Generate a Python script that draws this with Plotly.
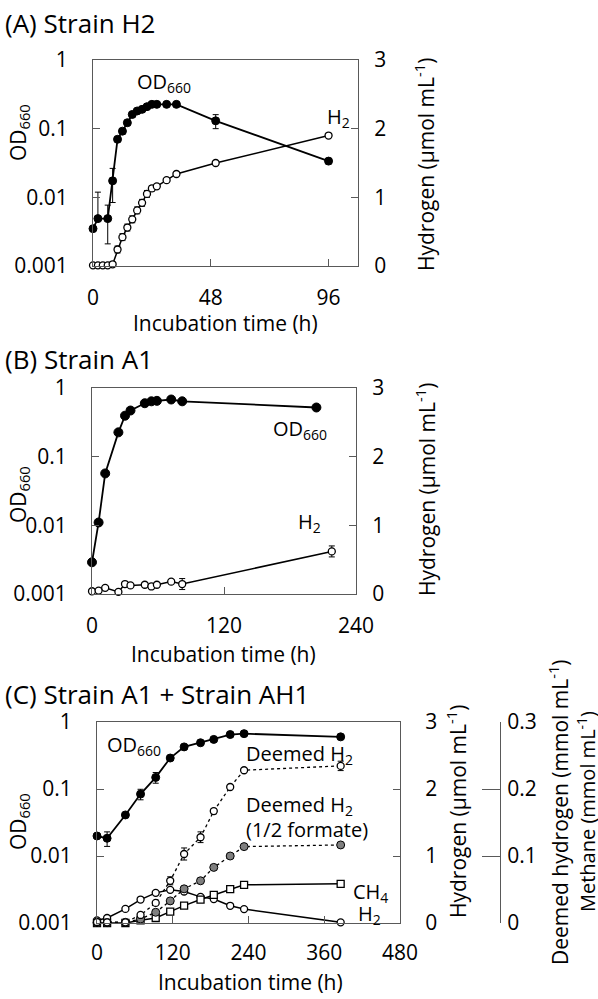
import plotly.graph_objects as go

W, H = 598, 999
FONT = "Open Sans"

# ---------------- Panel A: Strain H2 ----------------
a_t_od = [0, 2, 6, 8, 10, 12, 14, 16, 18, 20, 22, 24, 26, 30, 34, 50, 96]
a_od = [0.0035, 0.0049, 0.0049, 0.0174, 0.070, 0.092, 0.122, 0.161, 0.181, 0.191,
        0.209, 0.226, 0.226, 0.226, 0.226, 0.130, 0.0337]
a_od_err_up = [0, 0.007, 0.0028, 0.009, 0.004, 0.008, 0.005, 0.005, 0.005, 0.005,
               0.005, 0.005, 0.005, 0.005, 0.005, 0.03, 0.003]
a_od_err_dn = [0, 0, 0.0028, 0.009, 0.004, 0.008, 0.005, 0.005, 0.005, 0.005,
               0.005, 0.005, 0.005, 0.005, 0.005, 0.03, 0.003]
a_t_h2 = [0, 2, 4, 6, 8, 10, 12, 14, 16, 18, 20, 22, 24, 26, 30, 34, 50, 96]
a_h2 = [0.01, 0.01, 0.01, 0.01, 0.025, 0.24, 0.42, 0.56, 0.68, 0.81, 0.92, 1.05,
        1.13, 1.16, 1.25, 1.34, 1.50, 1.90]
a_h2_err = [0, 0, 0, 0, 0, 0.05, 0.05, 0.05, 0.05, 0.05, 0.05, 0.05, 0.04, 0.03,
            0.02, 0.02, 0.02, 0.02]

# ---------------- Panel B: Strain A1 ----------------
b_t_od = [0, 6, 12, 24, 30, 35, 48, 54, 59, 72, 82, 204]
b_od = [0.0029, 0.011, 0.057, 0.226, 0.395, 0.47, 0.60, 0.64, 0.65, 0.68, 0.64, 0.52]
b_t_h2 = [0, 6, 12, 24, 30, 35, 48, 54, 59, 72, 82, 218]
b_h2 = [0.04, 0.05, 0.09, 0.03, 0.145, 0.125, 0.135, 0.11, 0.135, 0.18, 0.145, 0.62]
b_h2_err = [0, 0, 0, 0, 0, 0, 0, 0, 0, 0.03, 0.08, 0.08]

# ---------------- Panel C: Strain A1 + Strain AH1 ----------------
c_t = [0, 16, 45, 69, 93, 116, 138, 164, 185, 211, 233, 386]
c_od = [0.0199, 0.0184, 0.041, 0.084, 0.149, 0.29, 0.425, 0.49, 0.55, 0.65, 0.67, 0.60]
c_od_err = [0, 0.0045, 0, 0.015, 0.027, 0, 0, 0, 0, 0, 0, 0]
c_h2 = [0.04, 0.075, 0.21, 0.35, 0.45, 0.495, 0.47, 0.39, 0.357, 0.257, 0.208, 0.01]
c_ch4 = [0.0, 0.0, 0.0, 0.004, 0.0075, 0.017, 0.026, 0.035, 0.042, 0.0505, 0.057, 0.0585]
c_deemed = [0.0015, 0.001, 0.001, 0.012, 0.030, 0.063, 0.103, 0.128, 0.167, 0.203, 0.228, 0.2345]
c_deemed_err = [0, 0, 0, 0, 0, 0.006, 0.009, 0.008, 0.004, 0, 0, 0.007]
c_half = [0.0005, 0.0005, 0.001, 0.006, 0.016, 0.033, 0.051, 0.063, 0.083, 0.100, 0.114, 0.1165]

od_ticks = [0.001, 0.01, 0.1, 1]
od_labels = ["0.001", "0.01", "0.1", "1"]

LINE = "#595959"
fig = go.Figure()


def err(arr, arrm=None):
    d = dict(type="data", array=arr, visible=True, thickness=1, width=3, color="black")
    if arrm is not None:
        d["arrayminus"] = arrm
        d["symmetric"] = False
    return d


def filled(x, y, xa, ya, e=None, size=8, dash="solid", color="black", lw=1.8):
    return go.Scatter(x=x, y=y, xaxis=xa, yaxis=ya, mode="lines+markers",
                      line=dict(color="black", width=lw, dash=dash),
                      marker=dict(symbol="circle", size=size, color=color,
                                  line=dict(color="black", width=1)),
                      error_y=e, cliponaxis=False, showlegend=False)


def opened(x, y, xa, ya, e=None, size=7, dash="solid", symbol="circle", lw=1.5):
    return go.Scatter(x=x, y=y, xaxis=xa, yaxis=ya, mode="lines+markers",
                      line=dict(color="black", width=lw, dash=dash),
                      marker=dict(symbol=symbol, size=size, color="white",
                                  line=dict(color="black", width=1.3)),
                      error_y=e, cliponaxis=False, showlegend=False)


# Panel A
fig.add_trace(opened(a_t_h2, a_h2, "x", "y2", err(a_h2_err)))
fig.add_trace(filled(a_t_od, a_od, "x", "y", err(a_od_err_up, a_od_err_dn)))
# Panel B
fig.add_trace(opened(b_t_h2, b_h2, "x2", "y4", err(b_h2_err)))
fig.add_trace(filled(b_t_od, b_od, "x2", "y3", size=9))
# Panel C
fig.add_trace(opened(c_t, c_h2, "x3", "y6"))
fig.add_trace(opened(c_t, c_ch4, "x3", "y7", symbol="square"))
fig.add_trace(filled(c_t, c_half, "x3", "y7", size=8, dash="dot", color="#7f7f7f", lw=1.3))
fig.add_trace(opened(c_t, c_deemed, "x3", "y7", err(c_deemed_err), dash="dot", lw=1.3))
fig.add_trace(filled(c_t, c_od, "x3", "y5", err(c_od_err), size=8))


def xd(p0, p1):
    return [p0 / W, p1 / W]


def yd(p0, p1):
    return [1 - p1 / H, 1 - p0 / H]


TF = dict(family=FONT, size=21, color="black")
base = dict(showline=True, linecolor=LINE, linewidth=1, ticks="inside", ticklen=7,
            tickcolor=LINE, tickwidth=1, showgrid=False, zeroline=False, automargin=False,
            tickfont=TF)

A_X, A_Y = (93, 358), (60, 266)
B_X, B_Y = (92, 356), (388, 594)
C_X, C_Y = (97, 400), (722, 923)

layout = dict(
    width=W, height=H, margin=dict(l=0, r=0, t=0, b=0, pad=0, autoexpand=False),
    paper_bgcolor="white", plot_bgcolor="white", showlegend=False,
    font=dict(family=FONT, size=21, color="black"),
    xaxis=dict(base, domain=xd(*A_X), anchor="y", range=[0, 108], tickvals=[0, 48, 96],
               mirror=True, ticklabelstandoff=13),
    yaxis=dict(base, domain=yd(*A_Y), anchor="x", type="log", range=[-3, 0],
               tickvals=od_ticks, ticktext=od_labels, ticklabelstandoff=20),
    yaxis2=dict(base, overlaying="y", side="right", anchor="x", range=[0, 3],
                tickvals=[0, 1, 2, 3], ticklabelstandoff=11),
    xaxis2=dict(base, domain=xd(*B_X), anchor="y3", range=[0, 240], tickvals=[0, 120, 240],
                mirror=True, ticklabelstandoff=13),
    yaxis3=dict(base, domain=yd(*B_Y), anchor="x2", type="log", range=[-3, 0],
                tickvals=od_ticks, ticktext=od_labels, ticklabelstandoff=20),
    yaxis4=dict(base, overlaying="y3", side="right", anchor="x2", range=[0, 3],
                tickvals=[0, 1, 2, 3], ticklabelstandoff=11),
    xaxis3=dict(base, domain=xd(*C_X), anchor="y5", range=[0, 480],
                tickvals=[0, 120, 240, 360, 480], mirror=True, ticklabelstandoff=11),
    yaxis5=dict(base, domain=yd(*C_Y), anchor="x3", type="log", range=[-3, 0],
                tickvals=od_ticks, ticktext=od_labels, ticklabelstandoff=20),
    yaxis6=dict(base, overlaying="y5", side="right", anchor="x3", range=[0, 3],
                tickvals=[0, 1, 2, 3], ticklabelstandoff=20),
    yaxis7=dict(base, overlaying="y5", side="right", anchor="free", position=500 / W,
                range=[0, 0.3], tickvals=[0, 0.1, 0.2, 0.3],
                ticktext=["0", "0.1", "0.2", "0.3"], ticklen=18, ticklabelstandoff=2),
)


def ann(text, x, y, size=21, xanchor="center", angle=0):
    return dict(text=text, x=x / W, y=1 - y / H, xref="paper", yref="paper",
                showarrow=False, font=dict(family=FONT, size=size, color="black"),
                xanchor=xanchor, yanchor="middle", textangle=angle)


OD = "OD<sub>660</sub>"
HYD = "Hydrogen (µmol mL<sup>-1</sup>)"
XT = "Incubation time (h)"
annotations = [
    ann("(A) Strain H2", 3, 23, size=26, xanchor="left"),
    ann("(B) Strain A1", 3, 359, size=26, xanchor="left"),
    ann("(C) Strain A1 + Strain AH1", 3, 694, size=26, xanchor="left"),
    # Panel A
    ann(OD, 19, 133, angle=-90), ann(HYD, 425, 165, angle=-90), ann(XT, 225, 323),
    ann(OD, 164, 82, size=20), ann("H<sub>2</sub>", 338, 117, size=20),
    # Panel B
    ann(OD, 19, 495, angle=-90), ann(HYD, 425, 490, angle=-90), ann(XT, 224, 654),
    ann(OD, 300, 429, size=20), ann("H<sub>2</sub>", 309, 522, size=20),
    # Panel C
    ann(OD, 19, 822, angle=-90), ann(HYD, 456, 812, angle=-90), ann(XT, 250, 982),
    ann("Deemed hydrogen (mmol mL<sup>-1</sup>)", 558, 812, angle=-90),
    ann("Methane (mmol mL<sup>-1</sup>)", 586, 812, size=20, angle=-90),
    ann(OD, 134, 745, size=20),
    ann("Deemed H<sub>2</sub>", 244, 754, size=20, xanchor="left"),
    ann("Deemed H<sub>2</sub>", 244, 805, size=20, xanchor="left"),
    ann("(1/2 formate)", 244, 829, size=20, xanchor="left"),
    ann("CH<sub>4</sub>", 351, 892, size=20, xanchor="left"),
    ann("H<sub>2</sub>", 356, 914, size=20, xanchor="left"),
]
layout["annotations"] = annotations
fig.update_layout(**layout)
fig.write_html("out.html", config={"displayModeBar": False},
               post_script="document.body.style.margin='0';document.body.style.padding='0';")
